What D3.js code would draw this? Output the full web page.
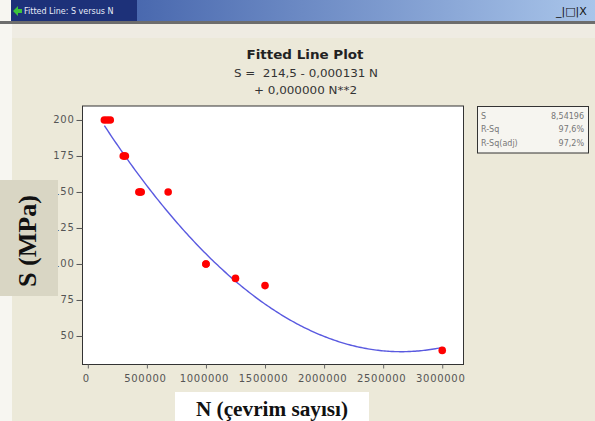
<!DOCTYPE html>
<html><head><meta charset="utf-8">
<script src="https://cdn.jsdelivr.net/npm/d3@7"></script>
<style>
html,body{margin:0;padding:0;background:#ece9d9;}
svg{display:block;}
text{white-space:pre;}
</style></head>
<body>
<script>
// ---- data ----
const cycles   = [140000, 165000, 190000, 300000, 310000, 318000, 432000, 442000, 452000, 680000, 1000000, 1000000, 1250000, 1500000, 3000000];
const stress   = [200, 200, 200, 175, 175, 175, 150, 150, 150, 150, 100, 100, 90, 85, 40];
const xTicks   = [0, 500000, 1000000, 1500000, 2000000, 2500000, 3000000];
const yTicks   = [50, 75, 100, 125, 150, 175, 200];
const statLabels = ["S", "R-Sq", "R-Sq(adj)"];
const statValues = ["8,54196", "97,6%", "97,2%"];
const titleText = "Fitted Line Plot";
const eqLines   = ["S =  214,5 - 0,000131 N", "+ 0,000000 N**2"];
const xLabel = "N (çevrim sayısı)";
const yLabel = "S (MPa)";

const W = 595, H = 421;
const svg = d3.select("body").append("svg").attr("width", W).attr("height", H);

// background
svg.append("rect").attr("width", W).attr("height", H).attr("fill", "#ece9d9");
svg.append("rect").attr("x", 0).attr("y", 0).attr("width", 12).attr("height", H).attr("fill", "#f7f6f1");

// title bar
const defs = svg.append("defs");
const g = defs.append("linearGradient").attr("id", "tb").attr("x1", 0).attr("x2", 1).attr("y1", 0).attr("y2", 0);
g.append("stop").attr("offset", 0).attr("stop-color", "#2f4f9e");
g.append("stop").attr("offset", 1).attr("stop-color", "#a9c5ea");
svg.append("rect").attr("x", 11).attr("y", 0).attr("width", W - 11).attr("height", 21).attr("fill", "url(#tb)");
svg.append("rect").attr("x", 11).attr("y", 0).attr("width", 126).attr("height", 21).attr("fill", "#1d3179");
svg.append("path").attr("d", "M13,11 L18,6 L18,9 L22,9 L22,13 L18,13 L18,16 Z").attr("fill", "#3cc43c");
svg.append("text").attr("x", 24).attr("y", 14).attr("font-family", "DejaVu Sans").attr("font-size", 8)
  .attr("fill", "#e8ecf8").text("Fitted Line: S versus N");
svg.append("rect").attr("x", 0).attr("y", 21).attr("width", W).attr("height", 3).attr("fill", "#6d6d6d");
svg.append("rect").attr("x", 12).attr("y", 24).attr("width", W - 12).attr("height", 14).attr("fill", "#efece3");
svg.append("text").attr("x", 556).attr("y", 15).attr("font-family", "DejaVu Sans").attr("font-size", 11)
  .attr("fill", "#111").text("_|□|X");

// plot frame
const L = 82.5, R = 463.5, T = 106, B = 364.5;
const x = d3.scaleLinear().domain([-45000, 3180000]).range([L, R]);
const y = d3.scaleLinear().domain([30.2, 209.7]).range([B, T]);

svg.append("rect").attr("x", L).attr("y", T).attr("width", R - L).attr("height", B - T)
  .attr("fill", "#ffffff").attr("stroke", "#333").attr("stroke-width", 1);

// axes
const tickFont = g2 => g2.selectAll("text").attr("font-family", "DejaVu Sans").attr("font-size", 10)
  .attr("letter-spacing", 0.7).attr("fill", "#555");
const yAxis = svg.append("g").attr("transform", `translate(${L},0)`)
  .call(d3.axisLeft(y).tickValues(yTicks).tickFormat(d3.format("d")).tickSize(6).tickPadding(2));
yAxis.select(".domain").remove();
yAxis.selectAll("line").attr("stroke", "#555");
yAxis.call(tickFont);
yAxis.selectAll("text").attr("dy", "0.3em");

const xAxis = svg.append("g").attr("transform", `translate(0,${B})`)
  .call(d3.axisBottom(x).tickValues(xTicks).tickFormat(d3.format("d")).tickSize(4).tickPadding(6));
xAxis.select(".domain").remove();
xAxis.selectAll("line").attr("stroke", "#666");
xAxis.call(tickFont);
xAxis.selectAll("text").attr("dx", "-2");

// quadratic least-squares fit from the data
function quadFit(xs, ys) {
  const s = 1e6;
  const M = [[0,0,0],[0,0,0],[0,0,0]], v = [0,0,0];
  xs.forEach((xi, i) => {
    const t = xi / s, p = [1, t, t * t];
    for (let a = 0; a < 3; a++) { v[a] += p[a] * ys[i]; for (let b = 0; b < 3; b++) M[a][b] += p[a] * p[b]; }
  });
  for (let c = 0; c < 3; c++) {
    for (let r = c + 1; r < 3; r++) {
      const f = M[r][c] / M[c][c];
      for (let k = c; k < 3; k++) M[r][k] -= f * M[c][k];
      v[r] -= f * v[c];
    }
  }
  const b = [0,0,0];
  for (let r = 2; r >= 0; r--) {
    let sum = v[r];
    for (let k = r + 1; k < 3; k++) sum -= M[r][k] * b[k];
    b[r] = sum / M[r][r];
  }
  return n => b[0] + b[1] * (n / s) + b[2] * (n / s) * (n / s);
}
const fit = quadFit(cycles, stress);
const n0 = d3.min(cycles), n1 = d3.max(cycles);
const curve = d3.range(0, 201).map(i => n0 + (n1 - n0) * i / 200);
svg.append("path").datum(curve)
  .attr("d", d3.line().x(d => x(d)).y(d => y(fit(d))))
  .attr("fill", "none").attr("stroke", "#5a5ae0").attr("stroke-width", 1.4);

// points
svg.append("g").selectAll("circle").data(cycles).join("circle")
  .attr("cx", d => x(d)).attr("cy", (d, i) => y(stress[i])).attr("r", 3.8).attr("fill", "#ff0000");

// titles
svg.append("text").attr("x", 305).attr("y", 58.5).attr("text-anchor", "middle")
  .attr("font-family", "DejaVu Sans").attr("font-weight", "bold").attr("font-size", 12.5)
  .attr("fill", "#222").attr("textLength", 117).attr("lengthAdjust", "spacingAndGlyphs").text(titleText);
svg.append("text").attr("x", 306).attr("y", 76.5).attr("text-anchor", "middle")
  .attr("font-family", "DejaVu Sans").attr("font-size", 11).attr("fill", "#333")
  .attr("textLength", 144).attr("lengthAdjust", "spacingAndGlyphs").text(eqLines[0]);
svg.append("text").attr("x", 305.5).attr("y", 94).attr("text-anchor", "middle")
  .attr("font-family", "DejaVu Sans").attr("font-size", 11).attr("fill", "#333")
  .attr("textLength", 103).attr("lengthAdjust", "spacingAndGlyphs").text(eqLines[1]);

// stats box
svg.append("rect").attr("x", 477.5).attr("y", 106.5).attr("width", 111).attr("height", 46.5)
  .attr("fill", "#f6f5f0").attr("stroke", "#333").attr("stroke-width", 1);
const rowY = [118.5, 132, 145.5];
statLabels.forEach((s, i) => {
  svg.append("text").attr("x", 481).attr("y", rowY[i]).attr("font-family", "DejaVu Sans")
    .attr("font-size", 8).attr("fill", "#777").text(s);
  svg.append("text").attr("x", 584).attr("y", rowY[i]).attr("text-anchor", "end").attr("font-family", "DejaVu Sans")
    .attr("font-size", 8).attr("fill", "#777").text(statValues[i]);
});

// overlay label boxes
svg.append("rect").attr("x", 0).attr("y", 180).attr("width", 58).attr("height", 116).attr("fill", "#d9d6c4");
svg.append("text").attr("transform", "translate(36,241) rotate(-90)").attr("text-anchor", "middle")
  .attr("font-family", "Liberation Serif").attr("font-weight", "bold").attr("font-size", 25)
  .attr("fill", "#111").attr("textLength", 92).attr("lengthAdjust", "spacingAndGlyphs").text(yLabel);

svg.append("rect").attr("x", 175).attr("y", 392).attr("width", 194).attr("height", 29).attr("fill", "#ffffff");
svg.append("text").attr("x", 272).attr("y", 416).attr("text-anchor", "middle")
  .attr("font-family", "Liberation Serif").attr("font-weight", "bold").attr("font-size", 20)
  .attr("fill", "#111").attr("textLength", 152).attr("lengthAdjust", "spacingAndGlyphs").text(xLabel);
</script>
</body></html>
